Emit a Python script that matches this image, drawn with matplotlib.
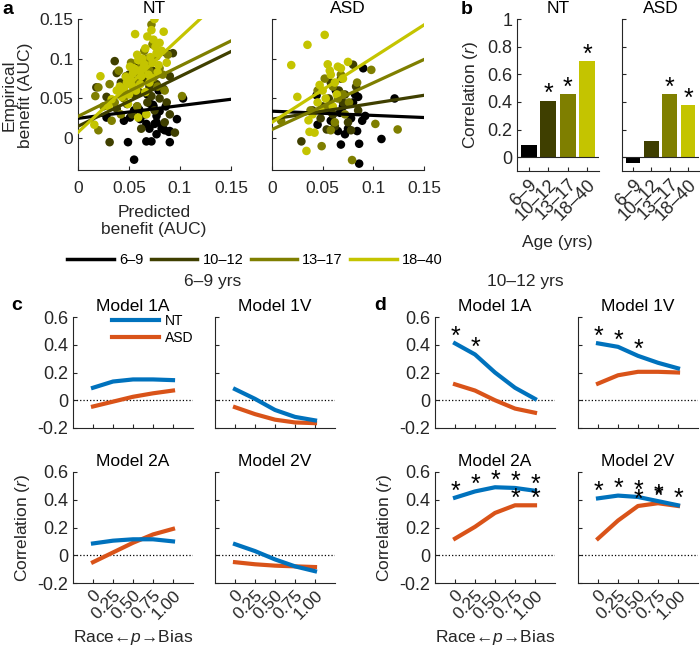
"""
  Age and model correlations figure (panels a-d)
"""
import matplotlib.pyplot as plt
import numpy as np
from matplotlib.lines import Line2D

plt.rcParams['font.family'] = ['Liberation Sans', 'DejaVu Sans']
plt.rcParams['mathtext.fontset'] = 'custom'
plt.rcParams['mathtext.rm'] = 'Liberation Sans'
plt.rcParams['mathtext.it'] = 'Liberation Sans:italic'

################################################################################
# Data

ages = ['6–9', '10–12', '13–17', '18–40']
age_colors = ['#000000', '#3f3f00', '#7f7f00', '#c4c400']

# panel a, NT scatter (predicted, empirical)
nt_x_6_9 = [0.055, 0.049, 0.067, 0.072, 0.090, 0.089, 0.085, 0.082, 0.097, 0.103,
            0.075, 0.067, 0.061, 0.051, 0.028, 0.074, 0.071, 0.077, 0.087, 0.049,
            0.058, 0.0735, 0.077, 0.090, 0.077, 0.083, 0.080, 0.065, 0.060, 0.045,
            0.070, 0.079, 0.086, 0.068, 0.055]
nt_y_6_9 = [-0.027, -0.005, -0.004, -0.004, -0.005, 0.008, 0.010, 0.012, 0.024, 0.050,
            0.018, 0.018, 0.024, 0.026, 0.026, 0.040, 0.043, 0.028, 0.107, 0.069,
            0.093, 0.042, 0.020, 0.009, 0.005, 0.016, 0.034, 0.030, 0.036, 0.022,
            0.012, 0.060, 0.040, 0.055, 0.035]
nt_x_10_12 = [0.031, 0.036, 0.038, 0.018, 0.095, 0.084, 0.090, 0.087, 0.059, 0.062,
              0.038, 0.053, 0.077, 0.072, 0.067, 0.093, 0.090, 0.048, 0.045, 0.055,
              0.065, 0.070, 0.080, 0.075, 0.060, 0.050, 0.042, 0.085, 0.028, 0.068,
              0.073, 0.058]
nt_y_10_12 = [-0.005, 0.097, 0.082, 0.064, 0.007, 0.062, 0.078, 0.045, 0.082, 0.012,
              0.037, 0.030, 0.068, 0.053, 0.093, 0.107, 0.030, 0.043, 0.060, 0.055,
              0.075, 0.065, 0.050, 0.035, 0.058, 0.080, 0.070, 0.020, 0.052, 0.045,
              0.085, 0.040]
nt_x_13_17 = [0.072, 0.020, 0.017, 0.020, 0.033, 0.102, 0.074, 0.077, 0.031, 0.040,
              0.048, 0.056, 0.062, 0.068, 0.083, 0.088, 0.045, 0.052, 0.060, 0.070,
              0.078, 0.036, 0.065, 0.058, 0.080, 0.042, 0.025, 0.055, 0.085, 0.073,
              0.064, 0.047, 0.071, 0.054]
nt_y_13_17 = [0.143, 0.064, 0.053, 0.010, 0.022, 0.053, 0.076, 0.103, 0.068, 0.085,
              0.070, 0.060, 0.090, 0.100, 0.080, 0.105, 0.050, 0.095, 0.075, 0.085,
              0.065, 0.045, 0.110, 0.040, 0.088, 0.030, 0.040, 0.072, 0.060, 0.118,
              0.082, 0.078, 0.094, 0.086]
nt_x_18_40 = [0.075, 0.056, 0.084, 0.072, 0.074, 0.066, 0.077, 0.022, 0.016, 0.033,
              0.049, 0.059, 0.067, 0.079, 0.087, 0.060, 0.052, 0.041, 0.057, 0.069,
              0.063, 0.076, 0.043, 0.051, 0.080, 0.058, 0.070, 0.064, 0.047, 0.038,
              0.030, 0.082, 0.061, 0.073, 0.054, 0.068, 0.045, 0.071, 0.066, 0.050,
              0.062, 0.055, 0.078, 0.065, 0.048, 0.059, 0.072, 0.053]
nt_y_18_40 = [0.150, 0.131, 0.134, 0.136, 0.124, 0.113, 0.107, 0.078, 0.017, 0.049,
              0.043, 0.026, 0.030, 0.092, 0.095, 0.085, 0.073, 0.065, 0.060, 0.080,
              0.100, 0.115, 0.052, 0.090, 0.120, 0.105, 0.070, 0.088, 0.077, 0.060,
              0.040, 0.110, 0.068, 0.095, 0.082, 0.128, 0.062, 0.102, 0.058, 0.055,
              0.078, 0.088, 0.083, 0.093, 0.070, 0.098, 0.076, 0.066]

# panel a, ASD scatter
asd_x_6_9 = [0.045, 0.068, 0.044, 0.065, 0.090, 0.121, 0.108, 0.086, 0.086, 0.084,
             0.082, 0.085, 0.089, 0.078, 0.060, 0.070, 0.075, 0.055, 0.080, 0.072,
             0.063, 0.058, 0.092, 0.067]
asd_y_6_9 = [0.017, -0.008, 0.054, 0.009, 0.088, 0.050, -0.001, -0.007, -0.032, 0.009,
             0.055, 0.052, 0.022, 0.025, 0.030, 0.040, 0.012, 0.035, 0.045, 0.005,
             0.060, 0.022, 0.028, 0.032]
asd_x_10_12 = [0.029, 0.054, 0.080, 0.060, 0.070, 0.075, 0.066, 0.050, 0.085, 0.058,
               0.062, 0.072, 0.048, 0.078, 0.068, 0.056, 0.040, 0.083]
asd_y_10_12 = [-0.004, 0.011, 0.0925, 0.030, 0.045, 0.020, 0.060, 0.040, 0.035, 0.070,
               0.015, 0.055, 0.025, 0.010, 0.075, 0.050, 0.035, 0.065]
asd_x_13_17 = [0.049, 0.009, 0.098, 0.102, 0.124, 0.079, 0.084, 0.065, 0.055, 0.060,
               0.072, 0.045, 0.038, 0.068, 0.076, 0.062, 0.052, 0.058, 0.070]
asd_y_13_17 = [-0.010, 0.022, 0.086, 0.018, 0.011, -0.0275, 0.070, 0.050, 0.040, 0.065,
               0.030, 0.060, 0.035, 0.080, 0.045, 0.020, 0.075, 0.010, 0.055]
asd_x_18_40 = [0.052, 0.035, 0.019, 0.025, 0.034, 0.037, 0.042, 0.036, 0.055, 0.065,
               0.068, 0.047, 0.075, 0.058, 0.062, 0.050, 0.045, 0.060, 0.070, 0.040,
               0.057, 0.053, 0.064, 0.048]
asd_y_18_40 = [0.130, 0.1175, 0.092, 0.052, -0.016, 0.008, 0.007, 0.0225, 0.093, 0.090,
               0.088, 0.067, 0.096, 0.080, 0.070, 0.060, 0.045, 0.040, 0.075, 0.030,
               0.085, 0.050, 0.055, 0.035]

# regression fits (intercept, slope) per age group
nt_icpt = [0.025, 0.015, 0.0275, 0.0075]
nt_slope = [0.16, 0.627, 0.633, 1.19]
asd_icpt = [0.034, 0.024, 0.011, 0.020]
asd_slope = [-0.053, 0.20, 0.587, 0.817]

# panel b, correlation by age
b_nt = [0.085, 0.41, 0.46, 0.695]
b_asd = [-0.045, 0.115, 0.455, 0.38]
b_nt_sig = [0, 1, 1, 1]
b_asd_sig = [0, 0, 1, 1]

# panels c/d, model correlations vs p
models = ['Model 1A', 'Model 1V', 'Model 2A', 'Model 2V']
p_vals = [0, 0.25, 0.5, 0.75, 1.0]
p_labels = ['0', '0.25', '0.50', '0.75', '1.00']

c_nt = [[0.09, 0.135, 0.15, 0.15, 0.145],
        [0.08, 0.01, -0.07, -0.12, -0.145],
        [0.085, 0.105, 0.115, 0.115, 0.10],
        [0.08, 0.03, -0.03, -0.08, -0.115]]
c_asd = [[-0.045, -0.01, 0.025, 0.05, 0.07],
         [-0.05, -0.10, -0.14, -0.16, -0.165],
         [-0.05, 0.02, 0.09, 0.15, 0.19],
         [-0.05, -0.065, -0.075, -0.08, -0.085]]

d_nt = [[0.41, 0.33, 0.20, 0.09, 0.01],
        [0.41, 0.385, 0.32, 0.27, 0.23],
        [0.415, 0.46, 0.49, 0.485, 0.465],
        [0.41, 0.43, 0.42, 0.39, 0.36]]
d_asd = [[0.115, 0.07, 0.0, -0.06, -0.09],
         [0.12, 0.18, 0.205, 0.205, 0.20],
         [0.12, 0.205, 0.305, 0.36, 0.36],
         [0.12, 0.25, 0.355, 0.375, 0.355]]
d_nt_sig = [[1, 1, 0, 0, 0],
            [1, 1, 1, 0, 0],
            [1, 1, 1, 1, 1],
            [1, 1, 1, 1, 1]]
d_asd_sig = [[0, 0, 0, 0, 0],
             [0, 0, 0, 0, 0],
             [0, 0, 0, 1, 1],
             [0, 0, 1, 1, 0]]

NT_COL = '#0072BD'
ASD_COL = '#D95319'
AX_COL = '#262626'

################################################################################
# Helpers

W, H = 700, 648
fig = plt.figure(figsize=(W/100, H/100), dpi=100)


def pax(l, t, w, h):
  """ pixel box (left, top, width, height) -> Axes """
  return fig.add_axes([l/W, 1-(t+h)/H, w/W, h/H])


def ftext(x, y, s, **kwargs):
  fig.text(x/W, 1-y/H, s, **kwargs)


def style(ax, size=13):
  for s in ['top', 'right']:
    ax.spines[s].set_visible(False)
  for s in ['left', 'bottom']:
    ax.spines[s].set_color(AX_COL)
    ax.spines[s].set_linewidth(0.8)
  ax.tick_params(direction='in', length=3, width=0.8, color=AX_COL,
                 labelcolor=AX_COL, labelsize=size)

################################################################################
# Panel a

nt_xs = [nt_x_6_9, nt_x_10_12, nt_x_13_17, nt_x_18_40]
nt_ys = [nt_y_6_9, nt_y_10_12, nt_y_13_17, nt_y_18_40]
asd_xs = [asd_x_6_9, asd_x_10_12, asd_x_13_17, asd_x_18_40]
asd_ys = [asd_y_6_9, asd_y_10_12, asd_y_13_17, asd_y_18_40]

a_axes = [pax(78, 19, 153, 151), pax(272, 19, 152, 151)]
groups = [(nt_xs, nt_ys, nt_icpt, nt_slope, 'NT'),
          (asd_xs, asd_ys, asd_icpt, asd_slope, 'ASD')]
for ax, (xs, ys, icpt, slope, name) in zip(a_axes, groups):
  for i in range(len(ages)):
    ax.scatter(xs[i], ys[i], s=38, color=age_colors[i], edgecolors='none', zorder=2)
  fx = np.array([0, 0.15])
  for i in range(len(ages)):
    ax.plot(fx, icpt[i] + slope[i]*fx, color=age_colors[i], lw=2.3, zorder=3)
  ax.set_xlim(0, 0.15)
  ax.set_ylim(-0.04, 0.15)
  ax.set_xticks([0, 0.05, 0.1, 0.15])
  ax.set_xticklabels(['0', '0.05', '0.1', '0.15'])
  ax.set_yticks([0, 0.05, 0.1, 0.15])
  ax.set_title(name, fontsize=12.5, pad=4)
  style(ax, 12.5)
  ax.tick_params(axis='x', pad=8)
a_axes[0].set_yticklabels(['0', '0.05', '0.1', '0.15'])
a_axes[1].set_yticklabels([])

ftext(17, 95, 'Empirical\nbenefit (AUC)', rotation=90, ha='center', va='center',
      fontsize=12.5, color=AX_COL, linespacing=1.1)
ftext(154, 221, 'Predicted\nbenefit (AUC)', ha='center', va='center',
      fontsize=12.5, color=AX_COL, linespacing=1.15)

handles = [Line2D([], [], color=c, lw=2.5) for c in age_colors]
fig.legend(handles, ages, loc='center', bbox_to_anchor=(255/W, 1-260/H), ncol=4,
           frameon=False, fontsize=10.5, handlelength=3.2, handletextpad=0.35,
           columnspacing=0.5)

################################################################################
# Panel b

b_axes = [pax(517, 19, 82, 152), pax(622, 19, 77, 152)]
for ax, vals, sig, name in zip(b_axes, [b_nt, b_asd], [b_nt_sig, b_asd_sig], ['NT', 'ASD']):
  pos = np.arange(1, len(vals)+1)
  ax.bar(pos, vals, width=0.8, color=age_colors, zorder=2)
  ax.axhline(0, color=AX_COL, lw=0.8, zorder=3)
  for i in range(len(vals)):
    if sig[i]:
      ax.text(pos[i], vals[i]+0.045, '*', ha='center', va='center', fontsize=18)
  ax.set_xlim(0.4, 4.6)
  ax.set_ylim(-0.1, 1)
  ax.set_xticks(pos)
  ax.set_xticklabels(ages, rotation=45, ha='right', va='top', rotation_mode='anchor')
  ax.set_yticks([0, 0.2, 0.4, 0.6, 0.8, 1])
  ax.set_title(name, fontsize=12.5, pad=4)
  style(ax, 13)
b_axes[0].set_yticklabels(['0', '0.2', '0.4', '0.6', '0.8', '1'])
b_axes[1].set_yticklabels([])
ftext(471, 95, r'Correlation ($\mathit{r}$)', rotation=90, ha='center', va='center',
      fontsize=12.5, color=AX_COL)
ftext(557, 242, 'Age (yrs)', ha='center', va='center', fontsize=12.5, color=AX_COL)

################################################################################
# Panels c and d

xlab = 'Race←$\\mathit{p}$→Bias'
grid_left = [[73, 215], [435, 578]]
grid_top = [317, 472]

for panel, (nt_all, asd_all) in enumerate([(c_nt, c_asd), (d_nt, d_asd)]):
  for m in range(len(models)):
    row, col = m // 2, m % 2
    ax = pax(grid_left[panel][col], grid_top[row], 120, 111)
    ax.axhline(0, color='k', ls=':', lw=0.9, zorder=1)
    ax.plot(p_vals, nt_all[m], color=NT_COL, lw=3, label='NT', zorder=3)
    ax.plot(p_vals, asd_all[m], color=ASD_COL, lw=3, label='ASD', zorder=2)
    if panel == 1:
      for i in range(len(p_vals)):
        if d_nt_sig[m][i]:
          ax.text(p_vals[i], nt_all[m][i]+0.045, '*', ha='center', va='center', fontsize=18)
        if d_asd_sig[m][i]:
          ax.text(p_vals[i], asd_all[m][i]+0.045, '*', ha='center', va='center', fontsize=18)
    ax.set_xlim(-0.25, 1.25)
    ax.set_ylim(-0.2, 0.6)
    ax.set_xticks(p_vals)
    ax.set_yticks([-0.2, 0, 0.2, 0.4, 0.6])
    ax.set_title(models[m], fontsize=12.5, pad=4)
    style(ax, 13)
    if col == 0:
      ax.set_yticklabels(['-0.2', '0', '0.2', '0.4', '0.6'])
    else:
      ax.set_yticklabels([])
    if row == 1:
      ax.set_xticklabels(p_labels, rotation=45, ha='right', va='top',
                         rotation_mode='anchor', fontsize=12.5)
    else:
      ax.set_xticklabels([])
    if row == 1 and col == 0:
      ax.set_ylabel(r'Correlation ($\mathit{r}$)', fontsize=12.5, color=AX_COL, labelpad=4)
      ax.set_xlabel(xlab, fontsize=12.5, color=AX_COL)
    if panel == 0 and m == 0:
      ax.legend(loc='upper left', bbox_to_anchor=(0.28, 1.08), frameon=False,
                fontsize=10, handlelength=3.4, handletextpad=0.4, borderaxespad=0,
                labelspacing=0.25)

ftext(213, 282, '6–9 yrs', ha='center', va='center', fontsize=12.5, color=AX_COL)
ftext(525, 282, '10–12 yrs', ha='center', va='center', fontsize=12.5, color=AX_COL)

# panel letters
for x, y, s in [(8, 9, 'a'), (467, 9, 'b'), (17, 305, 'c'), (380, 305, 'd')]:
  ftext(x, y, s, ha='center', va='center', fontsize=14, fontweight='bold')

plt.savefig('out.png', dpi=100)
